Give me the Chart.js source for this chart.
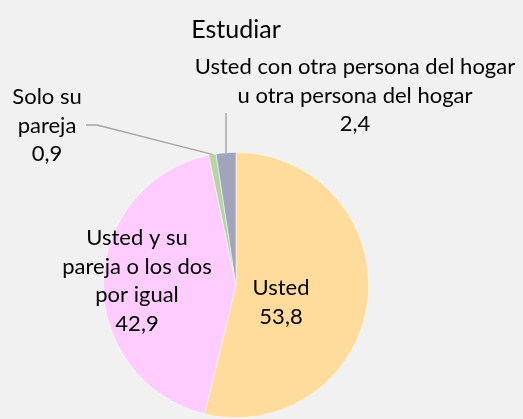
<!DOCTYPE html>
<html>
<head>
<meta charset="utf-8">
<script src="https://cdn.jsdelivr.net/npm/chart.js@4"></script>
<style>
  html, body { margin: 0; padding: 0; background: #f1f1f1; }
  #wrap { width: 523px; height: 419px; position: relative; }
</style>
</head>
<body>
<div id="wrap"><canvas id="pieChart" width="523" height="419"></canvas></div>
<script>
// datos del gráfico
const titulo = "Estudiar";
const categorias = [
  "Usted",
  "Usted y su pareja o los dos por igual",
  "Solo su pareja",
  "Usted con otra persona del hogar u otra persona del hogar"
];
const valores = [53.8, 42.9, 0.9, 2.4];
const colores = ["#ffdb9c", "#ffccff", "#b6d5a5", "#a0a5bd"];

// cortes de línea de cada etiqueta
const lineasEtiqueta = [
  ["Usted"],
  ["Usted y su", "pareja o los dos", "por igual"],
  ["Solo su", "pareja"],
  ["Usted con otra persona del hogar", "u otra persona del hogar"]
];
// posición del centro de la primera línea de cada etiqueta
const posEtiqueta = [
  { x: 281, y: 288 },
  { x: 137, y: 238 },
  { x: 47, y: 97 },
  { x: 355, y: 67 }
];
const interlineado = 28.5;
const fuente = "22px Lato, 'Noto Sans', sans-serif";

const formato = (v) => v.toFixed(1).replace(".", ",");

// etiquetas y líneas guía
const etiquetasPlugin = {
  id: "etiquetas",
  afterDatasetsDraw(chart) {
    const ctx = chart.ctx;
    const arcos = chart.getDatasetMeta(0).data;
    ctx.save();
    ctx.font = fuente;
    ctx.textAlign = "center";
    ctx.textBaseline = "middle";
    ctx.fillStyle = "#000";

    arcos.forEach((arco, i) => {
      const p = posEtiqueta[i];
      const lineas = lineasEtiqueta[i].concat([formato(valores[i])]);
      lineas.forEach((t, k) => ctx.fillText(t, p.x, p.y + k * interlineado));
    });

    // líneas guía hacia los sectores pequeños
    ctx.strokeStyle = "#a6a6a6";
    ctx.lineWidth = 1.5;
    const medio = (arco) => {
      const a = (arco.startAngle + arco.endAngle) / 2;
      return { x: arco.x + Math.cos(a) * arco.outerRadius, y: arco.y + Math.sin(a) * arco.outerRadius };
    };
    const verde = medio(arcos[2]);
    ctx.beginPath();
    ctx.moveTo(86, 125);
    ctx.lineTo(97, 125);
    ctx.lineTo(verde.x, verde.y);
    ctx.stroke();

    const gris = medio(arcos[3]);
    ctx.beginPath();
    ctx.moveTo(gris.x, 113);
    ctx.lineTo(gris.x, gris.y);
    ctx.stroke();
    ctx.restore();
  }
};

new Chart(document.getElementById("pieChart"), {
  type: "pie",
  data: {
    labels: categorias,
    datasets: [{
      data: valores,
      backgroundColor: colores,
      borderColor: "#ffffff",
      borderWidth: 0.5
    }]
  },
  options: {
    responsive: false,
    animation: false,
    layout: { padding: { left: 103, right: 154, top: 0, bottom: 1 } },
    plugins: {
      legend: { display: false },
      tooltip: { enabled: false },
      title: {
        display: true,
        text: titulo,
        fullSize: false,
        color: "#000",
        font: { family: "Lato, 'Noto Sans', sans-serif", size: 25, weight: "normal", lineHeight: 1.2 },
        padding: { top: 15, bottom: 107 }
      }
    }
  },
  plugins: [etiquetasPlugin]
});
</script>
</body>
</html>
